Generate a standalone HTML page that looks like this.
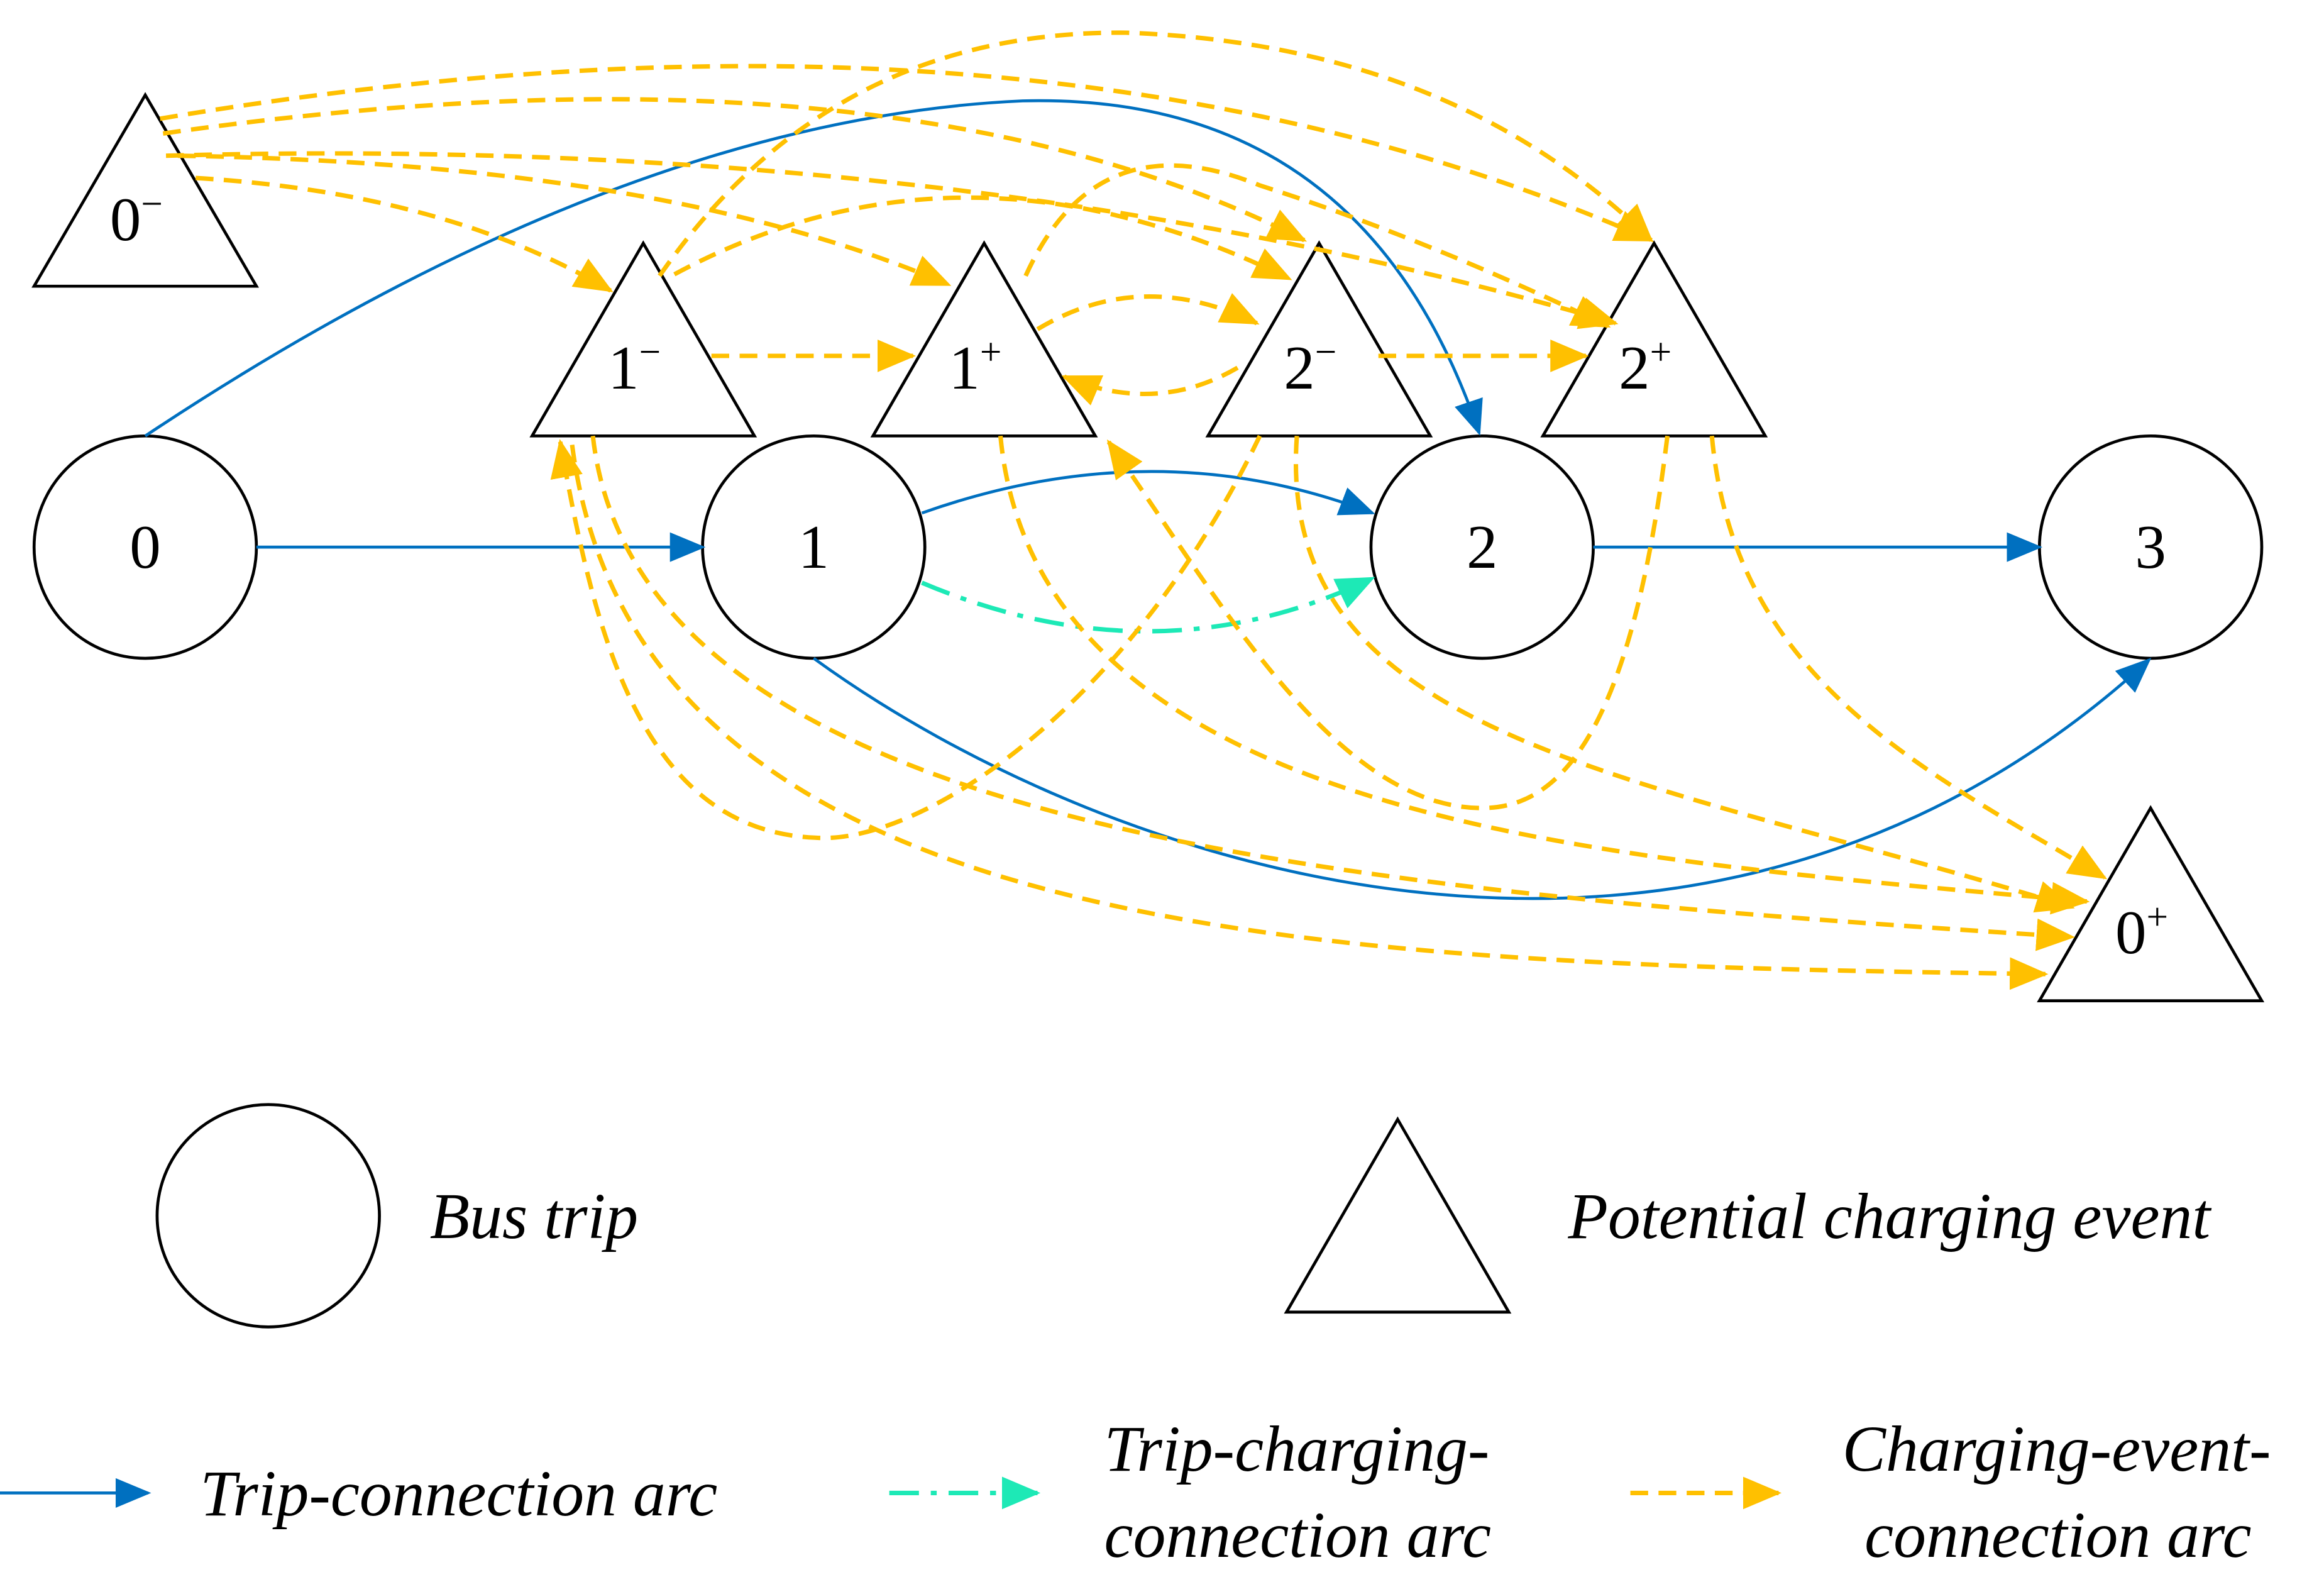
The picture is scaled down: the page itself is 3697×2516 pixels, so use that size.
<!DOCTYPE html>
<html><head><meta charset="utf-8"><style>
html,body{margin:0;padding:0;background:#fff;}
svg{display:block;}
text{font-family:"Liberation Serif",serif;}
</style></head><body>
<svg width="3697" height="2516" viewBox="0 0 1568 1067" xmlns="http://www.w3.org/2000/svg">
<defs>
<marker id="ab" markerUnits="userSpaceOnUse" markerWidth="24" markerHeight="20" refX="22" refY="10" orient="auto"><path d="M0,0 L24,10 L0,20 Z" fill="#0070c0"/></marker>
<marker id="ao" markerUnits="userSpaceOnUse" markerWidth="26" markerHeight="22" refX="24" refY="11" orient="auto"><path d="M0,0 L26,11 L0,22 Z" fill="#ffc000"/></marker>
<marker id="ac" markerUnits="userSpaceOnUse" markerWidth="26" markerHeight="22" refX="24" refY="11" orient="auto"><path d="M0,0 L26,11 L0,22 Z" fill="#1de9b6"/></marker>
</defs>
<g fill="none" stroke="#000" stroke-width="2">
<circle cx="98" cy="369" r="75"/><circle cx="549" cy="369" r="75"/><circle cx="1000" cy="369" r="75"/><circle cx="1451" cy="369" r="75"/>
<circle cx="181" cy="820" r="75"/>
<path d="M98,64 L173,193 L23,193 Z"/>
<path d="M434,164 L509,294 L359,294 Z"/>
<path d="M664,164 L739,294 L589,294 Z"/>
<path d="M890,164 L965,294 L815,294 Z"/>
<path d="M1116,164 L1191,294 L1041,294 Z"/>
<path d="M1451,545 L1526,675 L1376,675 Z"/>
<path d="M943,755 L1018,885 L868,885 Z"/>
</g>
<g fill="none" stroke="#0070c0" stroke-width="2">
<path d="M173,369 L474,369" marker-end="url(#ab)"/>
<path d="M1075,369 L1376,369" marker-end="url(#ab)"/>
<path d="M98,294 Q420,80 690,68 Q920,62 998,292" marker-end="url(#ab)"/>
<path d="M622,346 Q780,290 926,346" marker-end="url(#ab)"/>
<path d="M549,444 C750,590 1150,720 1450,445" marker-end="url(#ab)"/>
<path d="M0,1007 L100,1007" marker-end="url(#ab)"/>
</g>
<g fill="none" stroke="#1de9b6" stroke-width="3" stroke-dasharray="20,8,4,8">
<path d="M622,393 Q780,460 926,390" marker-end="url(#ac)"/>
<path d="M600,1007 L700,1007" marker-end="url(#ac)"/>
</g>
<g fill="none" stroke="#ffc000" stroke-width="3" stroke-dasharray="12,7">
<path d="M108,80 Q700,-20 1114,162" marker-end="url(#ao)"/>
<path d="M110,90 Q600,20 880,162" marker-end="url(#ao)"/>
<path d="M112,105 Q650,90 1090,218" marker-end="url(#ao)"/>
<path d="M120,105 Q450,110 640,192" marker-end="url(#ao)"/>
<path d="M132,120 Q300,130 412,196" marker-end="url(#ao)"/>
<path d="M445,186 Q560,20 760,22 Q980,30 1114,162" marker-end="url(#ao)"/>
<path d="M455,185 Q650,80 870,188" marker-end="url(#ao)"/>
<path d="M692,186 Q740,80 850,125 Q960,160 1085,220" marker-end="url(#ao)"/>
<path d="M480,240 L616,240" marker-end="url(#ao)"/>
<path d="M930,240 L1070,240" marker-end="url(#ao)"/>
<path d="M700,222 Q770,180 848,218" marker-end="url(#ao)"/>
<path d="M835,248 Q780,280 718,254" marker-end="url(#ao)"/>
<path d="M850,294 C760,480 620,570 550,565 C430,560 400,420 378,298" marker-end="url(#ao)"/>
<path d="M400,294 C430,560 900,600 1398,632" marker-end="url(#ao)"/>
<path d="M386,300 C430,640 900,650 1380,657" marker-end="url(#ao)"/>
<path d="M675,294 C700,560 1100,580 1408,608" marker-end="url(#ao)"/>
<path d="M1125,294 C1100,500 1050,545 1000,545 C900,545 820,400 748,298" marker-end="url(#ao)"/>
<path d="M875,294 C860,500 1100,520 1398,612" marker-end="url(#ao)"/>
<path d="M1155,294 C1170,460 1300,520 1420,592" marker-end="url(#ao)"/>
<path d="M1100,1007 L1200,1007" marker-end="url(#ao)"/>
</g>
<g font-size="42" text-anchor="middle" fill="#000">
<text x="98" y="383">0</text><text x="549" y="383">1</text><text x="1000" y="383">2</text><text x="1451" y="383">3</text>
<text x="92" y="162">0<tspan font-size="26" dy="-16">−</tspan></text>
<text x="428" y="262">1<tspan font-size="26" dy="-16">−</tspan></text>
<text x="658" y="262">1<tspan font-size="26" dy="-16">+</tspan></text>
<text x="884" y="262">2<tspan font-size="26" dy="-16">−</tspan></text>
<text x="1110" y="262">2<tspan font-size="26" dy="-16">+</tspan></text>
<text x="1445" y="643">0<tspan font-size="26" dy="-16">+</tspan></text>
</g>
<g font-size="44" font-style="italic" fill="#000">
<text x="290" y="835">Bus trip</text>
<text x="1058" y="835">Potential charging event</text>
<text x="135" y="1022">Trip-connection arc</text>
<text x="745" y="992">Trip-charging-</text>
<text x="745" y="1050">connection arc</text>
<text x="1243" y="992">Charging-event-</text>
<text x="1258" y="1050">connection arc</text>
</g>
</svg>
</body></html>
